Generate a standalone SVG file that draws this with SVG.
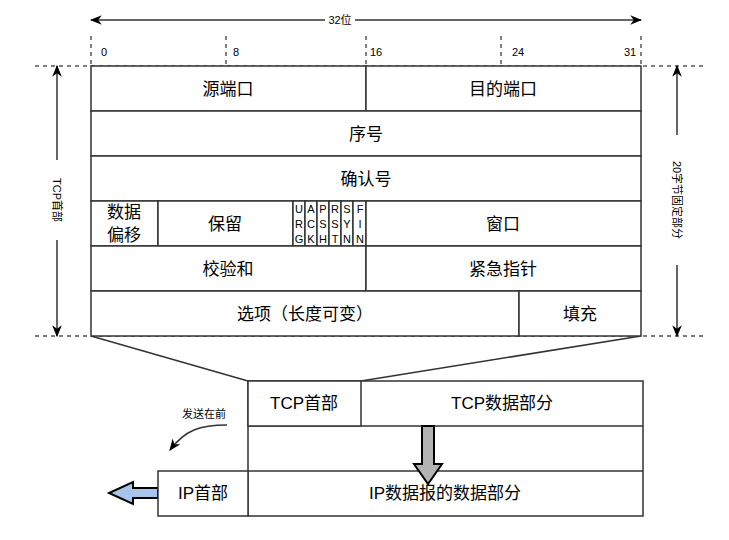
<svg xmlns="http://www.w3.org/2000/svg" width="729" height="540" viewBox="0 0 729 540">
<defs>
<marker id="ah" viewBox="0 0 10 10" refX="9" refY="5" markerWidth="8" markerHeight="8" orient="auto-start-reverse"><path d="M0,1 L10,5 L0,9 L3,5 Z" fill="#000"/></marker>
<style>
text{font-family:"Liberation Sans","Noto Sans CJK SC",sans-serif;fill:#000;text-anchor:middle;dominant-baseline:central}
.c{fill:#fff;stroke:#333;stroke-width:1.5}
.t{font-size:17px}
.s{font-size:11px}
.f{font-size:11px}
.d{stroke:#555;stroke-width:1.5;stroke-dasharray:4 4;fill:none}
.l{stroke:#333;stroke-width:1.5;fill:none}
</style>
</defs>
<rect width="729" height="540" fill="#fff"/>
<g id="guides">
<line class="d" x1="35" y1="66" x2="705" y2="66"/>
<line class="d" x1="35" y1="336" x2="705" y2="336"/>
<line class="d" x1="91" y1="36" x2="91" y2="66"/>
<line class="d" x1="226" y1="36" x2="226" y2="66"/>
<line class="d" x1="366" y1="36" x2="366" y2="66"/>
<line class="d" x1="501" y1="36" x2="501" y2="66"/>
<line class="d" x1="641" y1="36" x2="641" y2="66"/>
<text class="s" x="104" y="52">0</text>
<text class="s" x="236" y="52">8</text>
<text class="s" x="376" y="52">16</text>
<text class="s" x="518" y="52">24</text>
<text class="s" x="630" y="52">31</text>
</g>
<g id="connectors">
<line class="l" x1="91" y1="20" x2="325" y2="20" marker-start="url(#ah)"/>
<line class="l" x1="355" y1="20" x2="641" y2="20" marker-end="url(#ah)"/>
<line class="l" x1="57" y1="66" x2="57" y2="160" marker-start="url(#ah)"/>
<line class="l" x1="57" y1="240" x2="57" y2="336" marker-end="url(#ah)"/>
<line class="l" x1="677" y1="66" x2="677" y2="135" marker-start="url(#ah)"/>
<line class="l" x1="677" y1="265" x2="677" y2="336" marker-end="url(#ah)"/>
<line class="l" x1="91" y1="336" x2="248" y2="381"/>
<line class="l" x1="641" y1="336" x2="361" y2="381"/>
<path d="M227,425 C200,425 185,430 170,450" class="l" stroke-width="1" marker-end="url(#ah)"/>
<path d="M422,426 h12 v38 h8 l-14,20 l-14,-20 h8 z" fill="#b3b3b3" stroke="#000" stroke-width="2"/>
<path d="M158,488 v10 h-25 v6 l-24,-11 l24,-11 v6 z" fill="#a9c4eb" stroke="#000" stroke-width="2"/>
</g>
<text x="340" y="20" class="s">32位</text>
<text class="s" transform="translate(57,200) rotate(90)">TCP首部</text>
<text class="s" transform="translate(677,200) rotate(90)">20字节固定部分</text>
<g id="src"><rect class="c" x="91" y="66" width="275" height="45"/><text class="t" x="228" y="89">源端口</text></g>
<g id="dst"><rect class="c" x="366" y="66" width="275" height="45"/><text class="t" x="503" y="89">目的端口</text></g>
<g id="seq"><rect class="c" x="91" y="111" width="550" height="45"/><text class="t" x="366" y="134">序号</text></g>
<g id="ack"><rect class="c" x="91" y="156" width="550" height="45"/><text class="t" x="366" y="179">确认号</text></g>
<g id="off"><rect class="c" x="91" y="201" width="67" height="45"/><text class="t" x="124" y="212">数据</text><text class="t" x="124" y="235">偏移</text></g>
<g id="res"><rect class="c" x="158" y="201" width="135" height="45"/><text class="t" x="225" y="224">保留</text></g>
<g id="flags">
<rect class="c" x="293" y="201" width="12" height="45"/><rect class="c" x="305" y="201" width="12" height="45"/><rect class="c" x="317" y="201" width="12" height="45"/><rect class="c" x="329" y="201" width="12" height="45"/><rect class="c" x="341" y="201" width="12" height="45"/><rect class="c" x="353" y="201" width="13" height="45"/>
<text class="f" x="299" y="209">U</text><text class="f" x="299" y="224">R</text><text class="f" x="299" y="239">G</text>
<text class="f" x="311" y="209">A</text><text class="f" x="311" y="224">C</text><text class="f" x="311" y="239">K</text>
<text class="f" x="323" y="209">P</text><text class="f" x="323" y="224">S</text><text class="f" x="323" y="239">H</text>
<text class="f" x="335" y="209">R</text><text class="f" x="335" y="224">S</text><text class="f" x="335" y="239">T</text>
<text class="f" x="347" y="209">S</text><text class="f" x="347" y="224">Y</text><text class="f" x="347" y="239">N</text>
<text class="f" x="360" y="209">F</text><text class="f" x="360" y="224">I</text><text class="f" x="360" y="239">N</text>
</g>
<g id="win"><rect class="c" x="366" y="201" width="275" height="45"/><text class="t" x="503" y="224">窗口</text></g>
<g id="chk"><rect class="c" x="91" y="246" width="275" height="45"/><text class="t" x="228" y="269">校验和</text></g>
<g id="urg"><rect class="c" x="366" y="246" width="275" height="45"/><text class="t" x="503" y="269">紧急指针</text></g>
<g id="opt"><rect class="c" x="91" y="291" width="428" height="45"/><text class="t" x="305" y="314">选项（长度可变）</text></g>
<g id="pad"><rect class="c" x="519" y="291" width="122" height="45"/><text class="t" x="580" y="314">填充</text></g>
<g id="ipdata"><rect class="c" x="248" y="381" width="395" height="135"/><line class="l" x1="248" y1="426" x2="643" y2="426"/><line class="l" x1="248" y1="471" x2="643" y2="471"/><text class="t" x="445" y="493">IP数据报的数据部分</text></g>
<g id="tcph"><rect class="c" x="248" y="381" width="113" height="45"/><text class="t" x="304" y="403">TCP首部</text></g>
<g id="tcpd"><text class="t" x="502" y="403">TCP数据部分</text></g>
<g id="iph"><rect class="c" x="158" y="471" width="90" height="45"/><text class="t" x="203" y="493">IP首部</text></g>
<path d="M422,426 h12 v38 h8 l-14,20 l-14,-20 h8 z" fill="#b3b3b3" stroke="#000" stroke-width="2"/>
<text class="s" x="204" y="414">发送在前</text>
</svg>
